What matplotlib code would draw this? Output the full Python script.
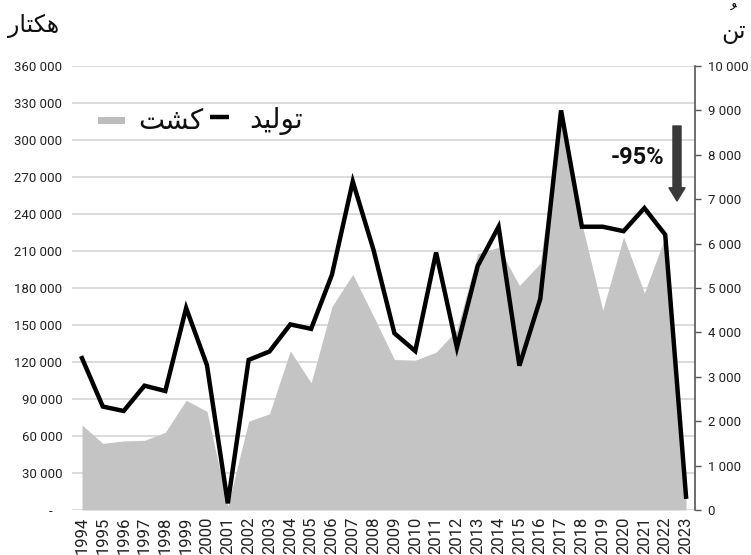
import matplotlib
matplotlib.use("Agg")
import matplotlib.pyplot as plt
from matplotlib.lines import Line2D
from matplotlib.patches import Rectangle, FancyArrowPatch

plt.rcParams['font.family'] = ['Roboto', 'DejaVu Sans']

# ---------------- data ----------------
years = list(range(1994, 2024))
area_ha = [69000, 54000, 56000, 56500, 63000, 89000, 80000, 3000, 72000, 78000,
           129000, 103000, 165000, 191000, 157000, 122000, 121500, 128000, 146000, 208000,
           213000, 182000, 200000, 323000, 232000, 162000, 221500, 176000, 221500, 15000]
prod_t = [3420, 2330, 2230, 2800, 2680, 4550, 3260, 150, 3380, 3570,
          4180, 4080, 5300, 7400, 5850, 3980, 3580, 5800, 3660, 5500,
          6380, 3250, 4750, 9000, 6380, 6380, 6280, 6800, 6200, 300]
left_ticks = list(range(0, 360001, 30000))
right_ticks = list(range(0, 10001, 1000))
change_label = "-95%"
left_unit = "هکتار"
right_unit_base = "تن"
right_unit_mark = "\uFE78"   # damma (spacing form) over ت  -> تُن
legend_area = "کشت"
legend_prod = "تولید"

# ---------------- minimal Persian shaping (matplotlib has no CTL) ----------------
FORMS = {
    '\u0627': ('\uFE8D', '\uFE8E', None, None),
    '\u062A': ('\uFE95', '\uFE96', '\uFE97', '\uFE98'),
    '\u062F': ('\uFEA9', '\uFEAA', None, None),
    '\u0631': ('\uFEAD', '\uFEAE', None, None),
    '\u0634': ('\uFEB5', '\uFEB6', '\uFEB7', '\uFEB8'),
    '\u0644': ('\uFEDD', '\uFEDE', '\uFEDF', '\uFEE0'),
    '\u0646': ('\uFEE5', '\uFEE6', '\uFEE7', '\uFEE8'),
    '\u0647': ('\uFEE9', '\uFEEA', '\uFEEB', '\uFEEC'),
    '\u0648': ('\uFEED', '\uFEEE', None, None),
    '\u06A9': ('\uFB8E', '\uFB8F', '\uFB90', '\uFB91'),
    '\u06CC': ('\uFBFC', '\uFBFD', '\uFBFE', '\uFBFF'),
}


def shape(s):
    chars = list(s)
    out = []
    for i, c in enumerate(chars):
        if c in FORMS:
            f = FORMS[c]
            prev = chars[i - 1] if i > 0 else None
            nxt = chars[i + 1] if i + 1 < len(chars) else None
            jp = prev in FORMS and FORMS[prev][2] is not None
            jn = nxt in FORMS and f[2] is not None
            if jp and jn:
                g = f[3]
            elif jp:
                g = f[1]
            elif jn:
                g = f[2]
            else:
                g = f[0]
        else:
            g = c
        out.append(g)
    return ''.join(reversed(out))


def fmt(v):
    return f"{v:,}".replace(",", " ")


W, H = 751, 555
fx = lambda x: x / W
fy = lambda y: 1 - y / H

fig = plt.figure(figsize=(W / 100, H / 100), dpi=100)
fig.patch.set_facecolor('white')
ax = fig.add_axes([fx(72), 45 / H, 623 / W, 444 / H])
ax2 = ax.twinx()

AREA_C = '#c4c4c4'
ax.fill_between(years, area_ha, 0, color=AREA_C, lw=0, zorder=2)
ax.set_ylim(0, 360000)
ax.set_yticks(left_ticks)
ax.set_yticklabels(['-   ' if v == 0 else fmt(v) for v in left_ticks])
ax.grid(axis='y', color='#d8d8d8', lw=1.3, zorder=0)
ax.grid(axis='x', visible=False)
ax.set_axisbelow(True)
ax.set_xlim(1993.52, 2023.43)
ax.set_xticks(years)
ax.set_xticklabels([str(y) for y in years], rotation=90, fontsize=12, color='#222222')
ax.tick_params(axis='x', length=0, pad=4.5)
ax.tick_params(axis='y', length=0, pad=7, labelsize=9.5, labelcolor='#222222')
for s in ax.spines.values():
    s.set_visible(False)

ax2.plot(years, prod_t, color='black', lw=3.2, solid_joinstyle='miter', zorder=3)
ax2.set_ylim(0, 10000)
ax2.set_yticks(right_ticks)
ax2.set_yticklabels([fmt(v) for v in right_ticks])
ax2.tick_params(axis='y', length=4, width=1, color='#555555', pad=5, labelsize=9.5,
                labelcolor='#222222')
for k, s in ax2.spines.items():
    s.set_visible(k == 'right')
ax2.spines['right'].set_color('#555555')
ax2.spines['right'].set_linewidth(1.2)

# units
fig.text(fx(8), fy(26), shape(left_unit), family=['DejaVu Sans'], fontsize=17,
         ha='left', va='center', color='#111111')
fig.text(fx(746), fy(25), right_unit_mark + "\n" + shape(right_unit_base),
         family=['DejaVu Sans'], fontsize=17, ha='right', va='center',
         multialignment='center', linespacing=0.42, color='#111111')

# legend (manual, visual order: patch, کشت, line, تولید)
fig.patches.append(Rectangle((fx(98), fy(124)), 27 / W, 7 / H, transform=fig.transFigure,
                             color='#bdbdbd', lw=0))
fig.text(fx(138), fy(121), shape(legend_area), family=['DejaVu Sans'], fontsize=20,
         ha='left', va='center', color='#111111')
fig.lines.append(Line2D([fx(210), fx(229)], [fy(117), fy(117)], transform=fig.transFigure,
                        color='black', lw=3.2, solid_capstyle='butt'))
fig.text(fx(249), fy(121), shape(legend_prod), family=['DejaVu Sans'], fontsize=20,
         ha='left', va='center', color='#111111')

# -95% annotation
fig.text(fx(638), fy(157), change_label, family=['Roboto', 'DejaVu Sans'],
         fontweight='bold', fontsize=17, ha='center', va='center', color='#111111')
arr = FancyArrowPatch(posA=(fx(677), fy(126)), posB=(fx(677), fy(201)),
                      transform=fig.transFigure,
                      arrowstyle='simple,head_width=1.15,head_length=0.95,tail_width=0.58',
                      mutation_scale=10, color='#3a3a3a', shrinkA=0, shrinkB=0)
fig.patches.append(arr)

fig.savefig('out.png', dpi=100)
